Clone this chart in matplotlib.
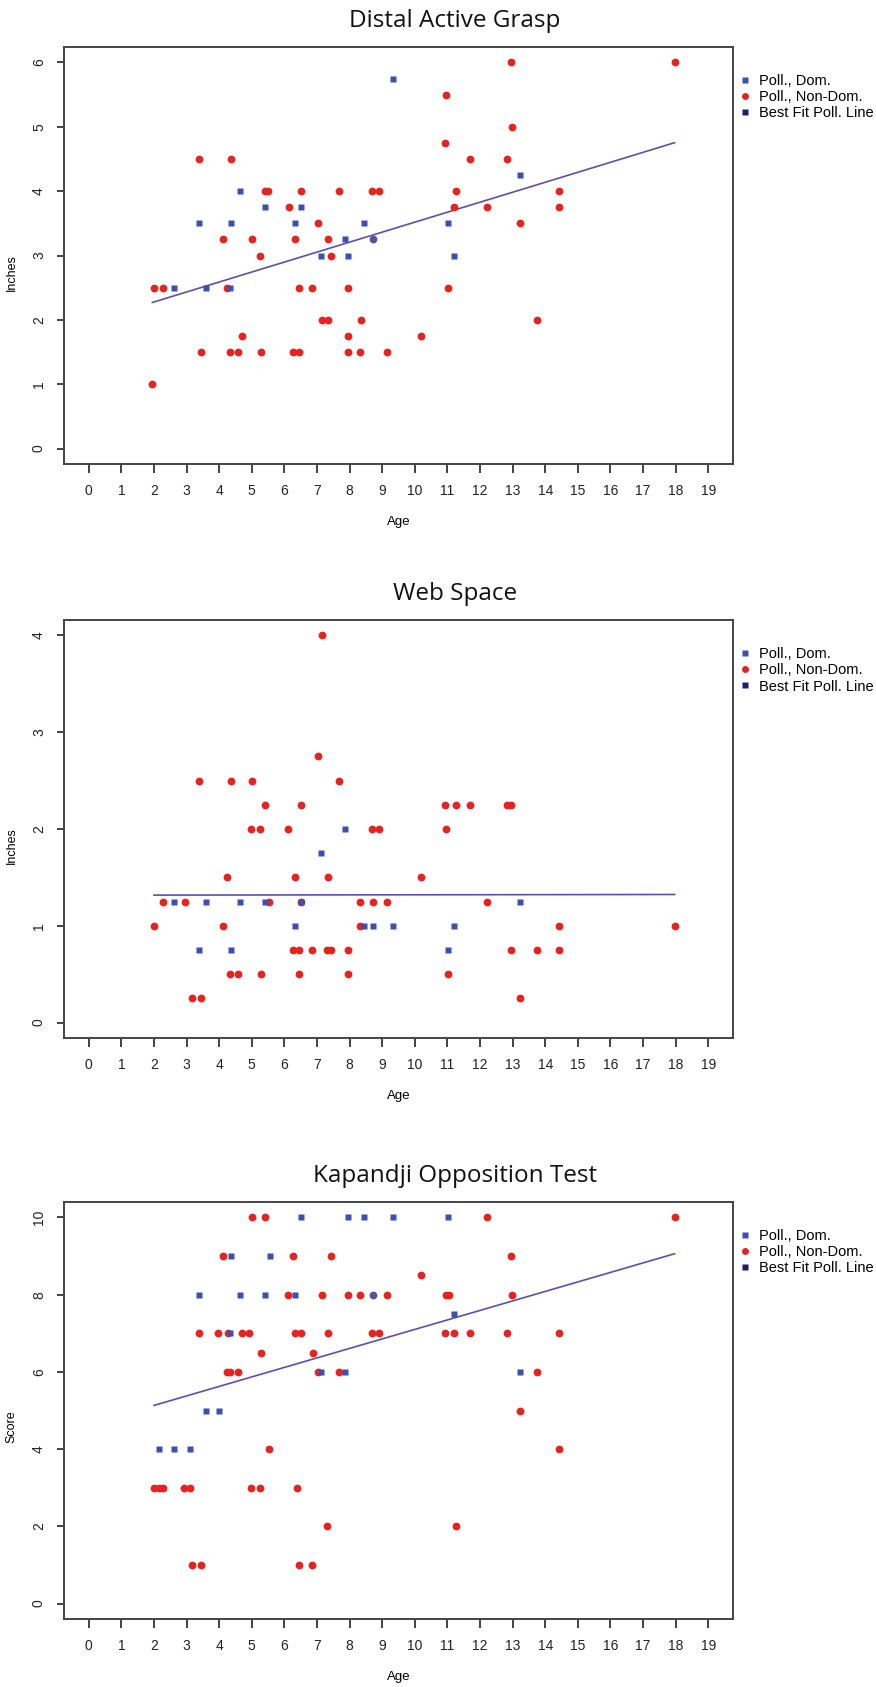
import matplotlib
matplotlib.use("Agg")
import matplotlib.pyplot as plt
from matplotlib.lines import Line2D

# ---- Distal Active Grasp ----
grasp_dom_age = [9.33, 4.65, 5.42, 6.5, 3.37, 4.35, 6.33, 8.43, 7.87, 7.11, 7.96,
                 2.62, 3.6, 4.33, 13.22, 11.02, 11.21]
grasp_dom_val = [5.75, 4.0, 3.75, 3.75, 3.5, 3.5, 3.5, 3.5, 3.25, 3.0, 3.0,
                 2.5, 2.5, 2.5, 4.25, 3.5, 3.0]
grasp_non_age = [3.37, 4.35, 5.42, 5.51, 6.5, 7.68, 8.69, 8.9, 6.13, 7.02, 4.12, 5.01,
                 6.33, 7.35, 5.24, 7.43, 2.0, 2.28, 4.25, 6.45, 6.84, 7.96, 7.14, 7.35,
                 8.34, 4.71, 7.96, 10.19, 3.44, 4.34, 4.59, 5.27, 6.25, 6.46, 7.96, 8.32,
                 9.16, 1.95, 12.96, 17.97, 10.97, 12.98, 10.92, 11.68, 12.84, 11.26,
                 14.43, 11.2, 12.22, 14.43, 13.22, 11.02, 13.74]
grasp_non_val = [4.5, 4.5, 4.0, 4.0, 4.0, 4.0, 4.0, 4.0, 3.75, 3.5, 3.25, 3.25,
                 3.25, 3.25, 3.0, 3.0, 2.5, 2.5, 2.5, 2.5, 2.5, 2.5, 2.0, 2.0,
                 2.0, 1.75, 1.75, 1.75, 1.5, 1.5, 1.5, 1.5, 1.5, 1.5, 1.5, 1.5,
                 1.5, 1.0, 6.0, 6.0, 5.5, 5.0, 4.75, 4.5, 4.5, 4.0,
                 4.0, 3.75, 3.75, 3.75, 3.5, 2.5, 2.0]
grasp_mix_age = [8.73]
grasp_mix_val = [3.25]
grasp_fit = [1.968, 0.155]  # intercept, slope

# ---- Web Space ----
web_dom_age = [7.87, 7.11, 2.62, 3.6, 4.64, 5.42, 6.5, 6.33, 8.43, 8.73, 9.33,
               3.37, 4.35, 13.22, 11.21, 11.02]
web_dom_val = [2.0, 1.75, 1.25, 1.25, 1.25, 1.25, 1.25, 1.0, 1.0, 1.0, 1.0,
               0.75, 0.75, 1.25, 1.0, 0.75]
web_non_age = [7.14, 7.02, 3.37, 4.35, 5.01, 7.68, 5.42, 6.5, 10.92, 11.26, 11.68,
               12.84, 12.96, 4.99, 5.24, 6.12, 8.69, 8.9, 10.97, 4.25, 6.33, 7.34,
               10.19, 2.28, 2.96, 5.52, 6.5, 8.31, 8.73, 9.16, 12.22, 2.0, 4.11,
               8.32, 14.43, 17.97, 6.25, 6.46, 6.84, 7.32, 7.43, 7.96, 12.96, 13.74,
               14.43, 4.34, 4.59, 5.27, 6.46, 7.96, 11.02, 3.18, 3.44, 13.22]
web_non_val = [4.0, 2.75, 2.5, 2.5, 2.5, 2.5, 2.25, 2.25, 2.25, 2.25, 2.25,
               2.25, 2.25, 2.0, 2.0, 2.0, 2.0, 2.0, 2.0, 1.5, 1.5, 1.5,
               1.5, 1.25, 1.25, 1.25, 1.25, 1.25, 1.25, 1.25, 1.25, 1.0, 1.0,
               1.0, 1.0, 1.0, 0.75, 0.75, 0.75, 0.75, 0.75, 0.75, 0.75, 0.75,
               0.75, 0.5, 0.5, 0.5, 0.5, 0.5, 0.5, 0.25, 0.25, 0.25]
web_mix_age = []
web_mix_val = []
web_fit = [1.316, 0.0004]

# ---- Kapandji Opposition Test ----
kap_dom_age = [6.5, 7.96, 8.43, 9.33, 11.02, 4.35, 5.56, 3.37, 4.65, 5.42, 6.33,
               4.33, 7.11, 7.87, 3.6, 3.98, 11.21, 13.22, 2.16, 2.62, 3.09]
kap_dom_val = [10, 10, 10, 10, 10, 9, 9, 8, 8, 8, 8,
               7, 6, 6, 5, 5, 7.5, 6, 4, 4, 4]
kap_non_age = [5.01, 5.42, 12.22, 17.97, 4.11, 6.25, 7.43, 12.96, 10.19, 6.12, 7.15,
               7.96, 8.32, 9.16, 10.97, 11.05, 12.98, 3.37, 3.97, 4.28, 4.71, 4.92,
               6.33, 6.5, 7.35, 8.69, 8.9, 10.92, 11.2, 11.68, 12.84, 14.43, 5.27,
               6.88, 4.25, 4.34, 4.59, 7.02, 7.68, 13.74, 13.22, 5.52, 14.43, 2.0,
               2.16, 2.28, 2.92, 3.09, 4.99, 5.24, 6.38, 7.32, 11.26, 3.18, 3.44,
               6.46, 6.84]
kap_non_val = [10, 10, 10, 10, 9, 9, 9, 9, 8.5, 8, 8,
               8, 8, 8, 8, 8, 8, 7, 7, 7, 7, 7,
               7, 7, 7, 7, 7, 7, 7, 7, 7, 7, 6.5,
               6.5, 6, 6, 6, 6, 6, 6, 5, 4, 4, 3,
               3, 3, 3, 3, 3, 3, 3, 2, 2, 1, 1,
               1, 1]
kap_mix_age = [8.73]
kap_mix_val = [8]
kap_fit = [4.64, 0.246]

titles = ["Distal Active Grasp", "Web Space", "Kapandji Opposition Test"]
ylabels = ["Inches", "Inches", "Score"]
yticks = [list(range(0, 7)), list(range(0, 5)), list(range(0, 11, 2))]
xticks = list(range(0, 20))
legend_labels = ["Poll., Dom.", "Poll., Non-Dom.", "Best Fit Poll. Line"]

BLUE = "#3a50b2"
RED = "#e8221c"
NAVY = "#1c1f6e"
LINEC = "#5a50b0"
MIX = "#5a4ea6"

panels = [
    (grasp_dom_age, grasp_dom_val, grasp_non_age, grasp_non_val, grasp_mix_age, grasp_mix_val, grasp_fit),
    (web_dom_age, web_dom_val, web_non_age, web_non_val, web_mix_age, web_mix_val, web_fit),
    (kap_dom_age, kap_dom_val, kap_non_age, kap_non_val, kap_mix_age, kap_mix_val, kap_fit),
]

plt.rcParams["font.family"] = ["Liberation Sans", "DejaVu Sans"]

W, H = 876, 1687
fig = plt.figure(figsize=(W / 100, H / 100), dpi=100)

# axes boxes in pixels: left, top, right, bottom
boxes = [(64, 47, 733, 464), (64, 620, 733, 1038), (64, 1202, 733, 1619)]

for i, (dx, dy, nx, ny, mx, my, fit) in enumerate(panels):
    l, t, r, b = boxes[i]
    ax = fig.add_axes([l / W, 1 - b / H, (r - l) / W, (b - t) / H])

    ax.plot(nx, ny, "o", color=RED, ms=5.6, mec="none", zorder=3)
    ax.plot(dx, dy, "s", color=BLUE, ms=4.6, mec="none", zorder=4)
    if mx:
        ax.plot(mx, my, "o", color=MIX, ms=5.6, mec="none", zorder=4)

    all_age = dx + nx
    x0, x1 = min(all_age), max(all_age)
    ax.plot([x0, x1], [fit[0] + fit[1] * x0, fit[0] + fit[1] * x1],
            color=LINEC, lw=1.2, zorder=2)

    yt = yticks[i]
    ypad = (yt[-1] - yt[0]) * 0.04
    ax.set_xlim(-0.76, 19.76)
    ax.set_ylim(yt[0] - ypad, yt[-1] + ypad)
    ax.set_xticks(xticks)
    ax.set_yticks(yt)
    ax.set_yticklabels([str(v) for v in yt], rotation=90, va="center")
    ax.tick_params(axis="x", length=6.5, width=1.2, pad=8, labelsize=10, colors="#222222")
    ax.tick_params(axis="y", length=5, width=1.2, pad=8, labelsize=10, colors="#222222")
    for s in ax.spines.values():
        s.set_linewidth(1.4)
        s.set_color("#444444")

    ax.set_xlabel("Age", fontsize=9.5, labelpad=13)
    ax.set_ylabel(ylabels[i], fontsize=9)
    ax.yaxis.set_label_coords(-0.069, 0.46)

    fig.text(455 / W, 1 - (t - 26) / H, titles[i], ha="center", va="center",
             fontsize=17.5, family="Open Sans", color="#111111")

    handles = [
        Line2D([], [], ls="none", marker="s", color=BLUE, ms=4, mec="none"),
        Line2D([], [], ls="none", marker="o", color=RED, ms=5, mec="none"),
        Line2D([], [], ls="none", marker="s", color=NAVY, ms=4, mec="none"),
    ]
    ax.legend(handles, legend_labels, loc="upper left", bbox_to_anchor=(1.012, 0.935),
              frameon=False, fontsize=10.5, handlelength=0.6, handletextpad=0.6,
              labelspacing=0.15, borderpad=0, borderaxespad=0)

fig.savefig("out.png", dpi=100)
